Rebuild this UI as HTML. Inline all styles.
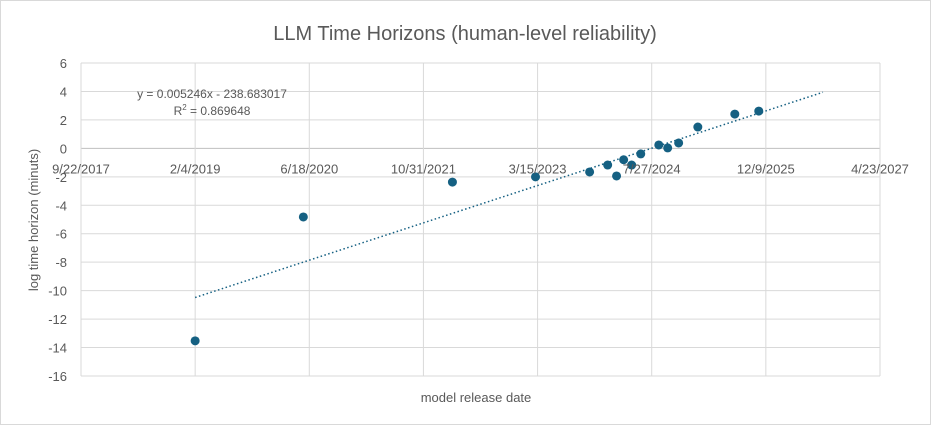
<!DOCTYPE html>
<html><head><meta charset="utf-8"><style>
body{margin:0;background:#fff}
svg{display:block;font-family:"Liberation Sans",sans-serif}
</style></head><body>
<svg id="c" width="931" height="425">
<rect x="0.5" y="0.5" width="930" height="424" fill="#fff" stroke="#d9d9d9"/>
<text x="465" y="40" text-anchor="middle" font-size="20" fill="#595959">LLM Time Horizons (human-level reliability)</text>
<g id="grid"></g><g id="trend"></g><g id="pts"></g><g id="labels"></g>
<text x="212" y="98" text-anchor="middle" font-size="12" fill="#595959">y = 0.005246x - 238.683017</text>
<text x="212" y="115" text-anchor="middle" font-size="12" fill="#595959">R<tspan dy="-5" font-size="8">2</tspan><tspan dy="5"> = 0.869648</tspan></text>
<text transform="translate(38,220) rotate(-90)" text-anchor="middle" font-size="13" fill="#595959">log time horizon (minuts)</text>
<text x="476" y="402" text-anchor="middle" font-size="13" fill="#595959">model release date</text>
</svg>
<script>
const dates=[43500,43974,44627,44991,45228,45307,45346,45377,45412,45452,45531,45570,45618,45702,45864,45969];
const values=[-13.53,-4.82,-2.37,-2.0,-1.66,-1.17,-1.94,-0.8,-1.17,-0.39,0.24,0.03,0.38,1.5,2.41,2.62];
const xTicks=[43000,43500,44000,44500,45000,45500,46000,46500];
const xTickLabels=["9/22/2017","2/4/2019","6/18/2020","10/31/2021","3/15/2023","7/27/2024","12/9/2025","4/23/2027"];
const yTicks=[6,4,2,0,-2,-4,-6,-8,-10,-12,-14,-16];
const trendSlope=0.005246, trendIntercept=-238.683017, trendRange=[43500,46250];
const X0=81,X1=880,Y0=63,Y1=376;
const sx=v=>X0+(v-43000)/3500*(X1-X0);
const sy=v=>Y0+(6-v)/22*(Y1-Y0);
const NS="http://www.w3.org/2000/svg";
function mk(t,a,p){const e=document.createElementNS(NS,t);for(const k in a)e.setAttribute(k,a[k]);p.appendChild(e);return e;}
const g=document.getElementById('grid'),L=document.getElementById('labels');
yTicks.forEach(v=>{
 const l=mk('line',{x1:X0,x2:X1,y1:sy(v),y2:sy(v),stroke:v===0?'#bfbfbf':'#d9d9d9','stroke-width':1},g);
 
 
 const t=mk('text',{x:X0-14,y:sy(v)+5,'text-anchor':'end','font-size':13,fill:'#595959'},L);
 t.textContent=v;
 
 
});
xTicks.forEach((v,i)=>{
 const l=mk('line',{x1:sx(v),x2:sx(v),y1:Y0,y2:Y1,stroke:'#d9d9d9','stroke-width':1},g);
 
 
 const t=mk('text',{x:sx(v),y:sy(0)+25,'text-anchor':'middle','font-size':13,fill:'#595959'},L);
 t.textContent=xTickLabels[i];
 
 
});
const tl=mk('line',{x1:sx(trendRange[0]),y1:sy(trendSlope*trendRange[0]+trendIntercept),x2:sx(trendRange[1]),y2:sy(trendSlope*trendRange[1]+trendIntercept),stroke:'#156082','stroke-width':1.5,'stroke-dasharray':'1.5,2.5'},document.getElementById('trend'));


const P=document.getElementById('pts');
dates.forEach((d,i)=>{
 const c=mk('circle',{cx:sx(d),cy:sy(values[i]),r:4.5,fill:'#156082'},P);
 
 
});
</script>
</body></html>
